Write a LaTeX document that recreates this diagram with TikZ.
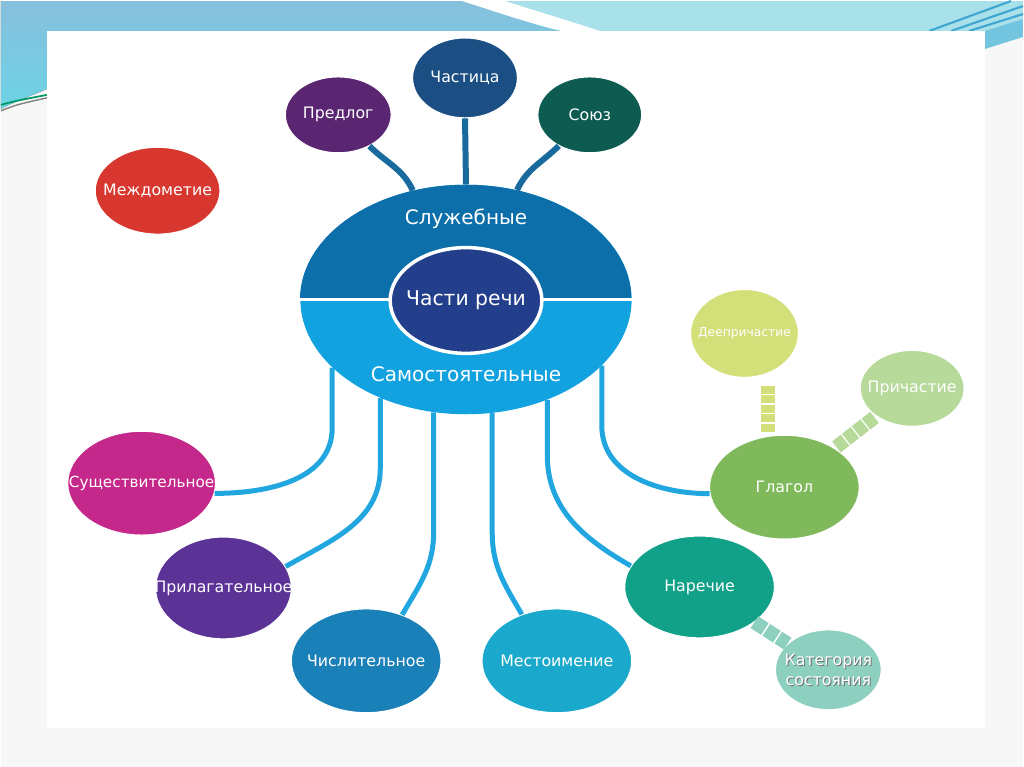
\documentclass[tikz,border=0pt]{standalone}
\usepackage{fontspec}
\setmainfont{DejaVu Sans}
\usetikzlibrary{shapes.geometric}

\definecolor{pagebg}{HTML}{F7F7F7}
\definecolor{bandL}{HTML}{86BFDC}
\definecolor{bandLlow}{HTML}{6DD3E6}
\definecolor{bandR}{HTML}{A9E1EB}
\definecolor{bandM}{HTML}{72C4DF}
\definecolor{bandline}{HTML}{3FA6CF}
\definecolor{chastc}{HTML}{1B4F84}
\definecolor{predlogc}{HTML}{5A2672}
\definecolor{soyuzc}{HTML}{0E5B52}
\definecolor{mezhdc}{HTML}{D8372F}
\definecolor{sluzhc}{HTML}{0D6FA9}
\definecolor{sluzhline}{HTML}{186B9C}
\definecolor{samc}{HTML}{12A2DF}
\definecolor{samline}{HTML}{22A6E0}
\definecolor{corec}{HTML}{233F8C}
\definecolor{sushc}{HTML}{C4288A}
\definecolor{prilc}{HTML}{5B3397}
\definecolor{chislc}{HTML}{1A80B8}
\definecolor{mestc}{HTML}{1AA9CC}
\definecolor{narechc}{HTML}{11A088}
\definecolor{katc}{HTML}{8ED0BF}
\definecolor{glagolc}{HTML}{80B95B}
\definecolor{deeprc}{HTML}{D3DF79}
\definecolor{prichc}{HTML}{B7DA9B}

\begin{document}
\begin{tikzpicture}[x=0.02cm, y=0.02cm,
    bub/.style={ellipse, inner sep=0pt, draw=white, line width=0.6pt},
    every label/.style={text=white, font=\fontsize{9}{11}\selectfont, align=center},
    bigtext/.style={text=white, font=\fontsize{11.4}{13}\selectfont},
    samconn/.style={draw=samline, line width=0.1cm},
    sluzhconn/.style={draw=sluzhline, line width=0.12cm},
    rungs/.style={line width=0.28cm, dash pattern=on 0.165cm off 0.025cm}]

    % slide background
    \fill[pagebg] (0,0) rectangle (1024,-767);
    \fill[bandR] (460,0) -- (1024,0) -- (1024,-30) -- (560,-30) -- cycle;
    \fill[top color=bandL, bottom color=bandLlow] (0,0) -- (470,0)
        .. controls (505,-12) and (535,-24) .. (565,-30) -- (46,-30) -- (46,-88)
        .. controls (30,-95) and (15,-100) .. (0,-108) -- cycle;
    \fill[white] (462,0) .. controls (500,-12) and (535,-24) .. (562,-30) -- (600,-30)
        .. controls (570,-20) and (530,-8) .. (505,0) -- cycle;
    \draw[bandline, line width=1.2pt] (930,-30) -- (1012,0);
    \draw[bandline, line width=1.2pt] (952,-30) -- (1024,-5);
    \draw[bandline, line width=1.2pt] (970,-30) -- (1024,-13);
    \fill[bandM] (986,-30) -- (1024,-18) -- (1024,-36) -- (986,-48) -- cycle;
    \draw[teal!80!green, line width=1pt] (0,-104) .. controls (15,-100) .. (46,-94);
    \draw[gray, line width=0.8pt] (0,-110) .. controls (15,-104) .. (46,-97);
    \fill[white] (46,-30) rectangle (986,-728);

    % sluzhebnye
    \node[bub, fill=chastc, minimum width=2.1cm, minimum height=1.6cm, label=center:Частица] (chast) at (465,-77) {};
    \node[bub, fill=predlogc, minimum width=2.12cm, minimum height=1.52cm, label=center:Предлог] (predlog) at (338,-114) {};
    \node[bub, fill=soyuzc, minimum width=2.08cm, minimum height=1.52cm, label=center:Союз] (soyuz) at (590,-114) {};
    \node[bub, fill=mezhdc, minimum width=2.5cm, minimum height=1.74cm, label=center:Междометие] (mezhd) at (157,-190) {};

    % centre
    \node[ellipse, inner sep=0pt, fill=samc, minimum width=6.64cm, minimum height=4.6cm] (big) at (466,-299) {};
    \fill[sluzhc] (big.west) arc[start angle=180, end angle=0, x radius=3.32cm, y radius=2.3cm] -- cycle;
    \draw[white, line width=1.2pt] (big.west) -- (big.east);
    \node[bub, fill=corec, line width=2pt, minimum width=3.04cm, minimum height=2.12cm,
        label={[font=\fontsize{11.6}{13}\selectfont]center:Части речи}] (core) at (466,-300) {};
    \node[bigtext] (sluzh) at (466,-218) {Служебные};
    \node[bigtext] (samost) at (466,-374) {Самостоятельные};

    % samostoyatelnye
    \node[bub, fill=sushc, minimum width=2.96cm, minimum height=2.08cm,
        label={[font=\fontsize{8.7}{10}\selectfont]center:Существительное}] (sush) at (141,-483) {};
    \node[bub, fill=prilc, minimum width=2.72cm, minimum height=2.04cm, label=center:Прилагательное] (pril) at (223,-588) {};
    \node[bub, fill=chislc, minimum width=3cm, minimum height=2.08cm, label=center:Числительное] (chisl) at (366,-661) {};
    \node[bub, fill=mestc, minimum width=3cm, minimum height=2.08cm, label=center:Местоимение] (mest) at (557,-661) {};
    \node[bub, fill=narechc, minimum width=3cm, minimum height=2.04cm, label=center:Наречие] (narech) at (700,-587) {};
    \node[bub, fill=katc, minimum width=2.12cm, minimum height=1.6cm,
        label={[text=black!55, xshift=0.6pt, yshift=-0.6pt]center:Категория\\состояния},
        label={center:Категория\\состояния}] (kat) at (829,-670) {};
    \node[bub, fill=glagolc, minimum width=3cm, minimum height=2.08cm, label=center:Глагол] (glagol) at (785,-487) {};
    \node[bub, fill=deeprc, minimum width=2.16cm, minimum height=1.76cm,
        label={[font=\fontsize{7}{8}\selectfont]center:Деепричастие}] (deepr) at (745,-333) {};
    \node[bub, fill=prichc, minimum width=2.08cm, minimum height=1.52cm, label=center:Причастие] (prich) at (913,-388) {};

    % connectors
    \draw[sluzhconn] (predlog.315) to[out=-45, in=115] (big.116);
    \draw[sluzhconn] (chast.south) -- (big.north);
    \draw[sluzhconn] (soyuz.225) to[out=-135, in=65] (big.65);

    \draw[samconn] (big.207) -- ++(0,-60) to[out=-90, in=0] (sush.-8);
    \draw[samconn] (big.229) -- ++(0,-70) to[out=-90, in=30] (pril.19);
    \draw[samconn] (big.254) -- ++(0,-120) to[out=-90, in=60] (chisl.52);
    \draw[samconn] (big.283) -- ++(0,-120) to[out=-90, in=120] (mest.127);
    \draw[samconn] (big.309) -- ++(0,-55) to[out=-90, in=150] (narech.163);
    \draw[samconn] (big.334) -- ++(0,-60) to[out=-90, in=180] (glagol.185);

    \draw[rungs, draw=deeprc, shorten <=0.24cm, shorten >=0.06cm] (deepr.300) -- (deepr.300 |- glagol.north);
    \draw[rungs, draw=prichc, dash pattern=on 0.22cm off 0.03cm, shorten <=0.04cm, shorten >=0.04cm] (glagol) -- (prich);
    \draw[rungs, draw=katc, dash pattern=on 0.25cm off 0.035cm] (narech) -- (kat);
\end{tikzpicture}
\end{document}
